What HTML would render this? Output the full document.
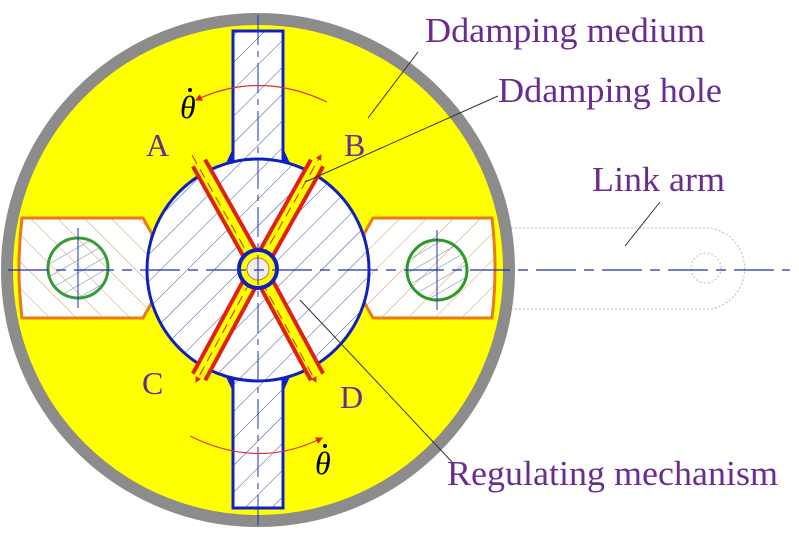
<!DOCTYPE html>
<html><head><meta charset="utf-8"><style>html,body{margin:0;padding:0;background:#fff}</style></head><body>
<svg width="799" height="535" viewBox="0 0 799 535" xmlns="http://www.w3.org/2000/svg" style="display:block">
<defs>
<pattern id="hb" width="19" height="19" patternUnits="userSpaceOnUse" patternTransform="rotate(45)"><line x1="0" y1="0" x2="0" y2="19" stroke="#2a3a9a" stroke-width="0.9"/></pattern>
<pattern id="ho" width="19" height="19" patternUnits="userSpaceOnUse" patternTransform="rotate(-45)"><line x1="0" y1="0" x2="0" y2="19" stroke="#d0904a" stroke-width="0.9"/></pattern>
<pattern id="ho2" width="19" height="19" patternUnits="userSpaceOnUse" patternTransform="rotate(45)"><line x1="0" y1="0" x2="0" y2="19" stroke="#d0904a" stroke-width="0.9"/></pattern>
<pattern id="hg" width="11" height="11" patternUnits="userSpaceOnUse" patternTransform="rotate(60)"><line x1="0" y1="0" x2="0" y2="11" stroke="#4a7a8a" stroke-width="0.9"/></pattern>
<marker id="ar" markerWidth="6" markerHeight="6" refX="5" refY="3" orient="auto"><path d="M0,0 L6,3 L0,6z" fill="#e02010"/></marker>
</defs>
<path d="M215,228 L710,228 A41,41 0 0 1 710,309 L215,309" fill="none" stroke="#bbb" stroke-width="1" stroke-dasharray="2,2"/>
<circle cx="706" cy="268" r="15" fill="none" stroke="#bbb" stroke-dasharray="2,2"/>
<circle cx="258" cy="270" r="251" fill="#ffff00" stroke="#8c8c8c" stroke-width="12"/>
<path d="M22,218 L143,218 L152,234 Q146,268 152,302 L143,318 L22,318 Q16,268 22,218z" fill="#fff" stroke="#e87a1a" stroke-width="3"/>
<path d="M22,218 L143,218 L152,234 Q146,268 152,302 L143,318 L22,318 Q16,268 22,218z" fill="url(#ho)"/>
<path d="M492,218 L373,218 L364,234 Q370,268 364,302 L373,318 L492,318 Q498,268 492,218z" fill="#fff" stroke="#e87a1a" stroke-width="3"/>
<path d="M492,218 L373,218 L364,234 Q370,268 364,302 L373,318 L492,318 Q498,268 492,218z" fill="url(#ho2)"/>
<circle cx="78" cy="268" r="30" fill="url(#hg)" stroke="#3a9a3a" stroke-width="3"/>
<circle cx="437" cy="270" r="30" fill="url(#hg)" stroke="#2a9a2a" stroke-width="3"/>
<path d="M222,172 L233,148 L283,148 L294,172z M222,368 L233,392 L283,392 L294,368z" fill="#1020d0"/>
<rect x="233" y="31" width="50" height="142" fill="#fff" stroke="#1020d0" stroke-width="3"/>
<rect x="233" y="31" width="50" height="142" fill="url(#hb)"/>
<rect x="233" y="367" width="50" height="141" fill="#fff" stroke="#1020d0" stroke-width="3"/>
<rect x="233" y="367" width="50" height="141" fill="url(#hb)"/>
<circle cx="258" cy="270" r="111" fill="#fff" stroke="#1020c0" stroke-width="3"/>
<circle cx="258" cy="270" r="111" fill="url(#hb)"/>
<g stroke="#e02010" stroke-width="18" stroke-linecap="butt">
<line x1="199" y1="163" x2="258" y2="268"/><line x1="317" y1="163" x2="258" y2="268"/>
<line x1="199" y1="377" x2="258" y2="268"/><line x1="317" y1="377" x2="258" y2="268"/>
</g>
<g stroke="#ffff00" stroke-width="10">
<line x1="199" y1="163" x2="258" y2="268"/><line x1="317" y1="163" x2="258" y2="268"/>
<line x1="199" y1="377" x2="258" y2="268"/><line x1="317" y1="377" x2="258" y2="268"/>
</g>
<g stroke="#e02010" stroke-width="1" stroke-dasharray="10,6" marker-end="url(#ar)">
<line x1="192" y1="155" x2="250" y2="258"/><line x1="262" y1="258" x2="321" y2="155"/>
<line x1="250" y1="282" x2="196" y2="382"/><line x1="262" y1="282" x2="316" y2="382"/>
</g>
<circle cx="258" cy="269" r="19" fill="#ffff00" stroke="#1020c0" stroke-width="4"/>
<circle cx="258" cy="269" r="11" fill="#eee" stroke="#c08030" stroke-width="1"/>
<line x1="8" y1="270" x2="790" y2="270" stroke="#2030b0" stroke-width="1.2" stroke-dasharray="40,8,10,8"/>
<line x1="258" y1="15" x2="258" y2="530" stroke="#2030b0" stroke-width="1" stroke-dasharray="30,6,6,6"/>
<line x1="78" y1="228" x2="78" y2="308" stroke="#2030b0"/><line x1="437" y1="230" x2="437" y2="310" stroke="#2030b0"/>
<path d="M327,102 Q260,70 196,100" fill="none" stroke="#e03030" stroke-width="1.2" marker-end="url(#ar)"/>
<path d="M190,436 Q258,470 322,438" fill="none" stroke="#e03030" stroke-width="1.2" marker-end="url(#ar)"/>
<g stroke="#333" stroke-width="1"><line x1="418" y1="52" x2="368" y2="118"/><line x1="498" y1="96" x2="305" y2="182"/><line x1="660" y1="202" x2="625" y2="246"/><line x1="452" y1="462" x2="300" y2="300"/></g>
<g font-family="Liberation Serif, serif" fill="#6a2c90" font-size="35">
<text x="425" y="42" textLength="280" lengthAdjust="spacingAndGlyphs">Ddamping medium</text>
<text x="498" y="102" textLength="224" lengthAdjust="spacingAndGlyphs">Ddamping hole</text>
<text x="592" y="191" textLength="133" lengthAdjust="spacingAndGlyphs">Link arm</text>
<text x="447" y="485" textLength="331" lengthAdjust="spacingAndGlyphs">Regulating mechanism</text>
<text x="146" y="156" font-size="32">A</text><text x="344" y="156" font-size="32">B</text>
<text x="142" y="394" font-size="32">C</text><text x="340" y="408" font-size="32">D</text>
</g>
<g font-family="Liberation Serif, serif" font-style="italic" font-size="32" fill="#000">
<text x="180" y="118">θ</text><text x="315" y="474">θ</text>
</g>
<circle cx="190" cy="90" r="2" fill="#000"/><circle cx="325" cy="446" r="2" fill="#000"/>
</svg>
</body></html>
